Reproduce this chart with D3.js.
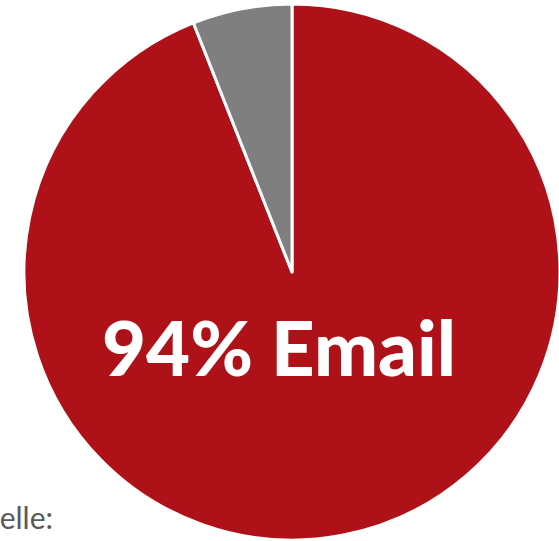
<!DOCTYPE html>
<html>
<head>
<meta charset="utf-8">
<script src="https://cdn.jsdelivr.net/npm/d3@7"></script>
<style>
  body { margin: 0; background: #fff; overflow: hidden; }
</style>
</head>
<body>
<svg id="chart" width="559" height="541"></svg>
<script>
const categories = ['Email', 'Andere'];
const shares = [94, 6];
const colors = ['#ae1218', '#7f7f7f'];
const labelText = '94% Email';
const sourceText = 'Quelle:';

const svg = d3.select('#chart');
const cx = 292, cy = 272, radius = 268;

// source note, mostly cut off at the left edge
svg.append('text')
  .attr('x', 53)
  .attr('y', 529)
  .attr('text-anchor', 'end')
  .attr('font-family', 'Lato, sans-serif')
  .attr('font-size', 30)
  .attr('fill', '#595959')
  .text(sourceText);

// Email runs clockwise from 12 o'clock, the small slice closes the circle
const pie = d3.pie().sort(null);
const arc = d3.arc().innerRadius(0).outerRadius(radius);

const g = svg.append('g').attr('transform', `translate(${cx},${cy})`);

g.selectAll('path')
  .data(pie(shares))
  .enter()
  .append('path')
  .attr('d', arc)
  .attr('fill', (d, i) => colors[i])
  .attr('stroke', '#fff')
  .attr('stroke-width', 3)
  .attr('stroke-linejoin', 'round');

g.append('text')
  .attr('x', -13)
  .attr('y', 104)
  .attr('text-anchor', 'middle')
  .attr('font-family', 'Lato, sans-serif')
  .attr('font-weight', 900)
  .attr('font-size', 76)
  .attr('fill', '#fff')
  .text(labelText);
</script>
</body>
</html>
